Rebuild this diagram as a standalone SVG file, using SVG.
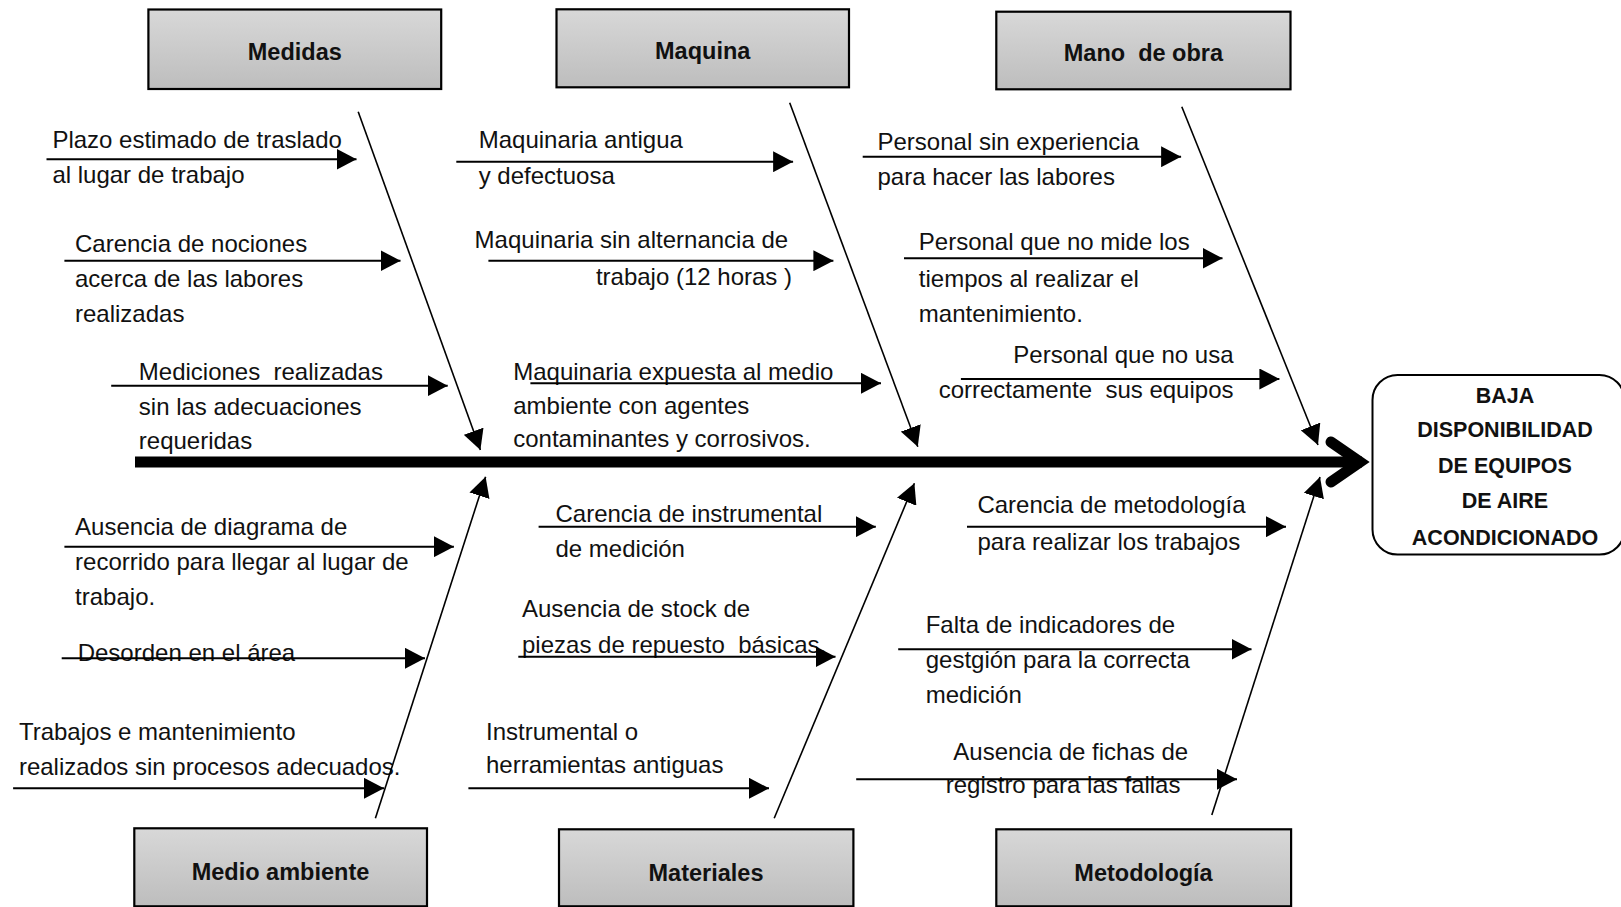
<svg xmlns="http://www.w3.org/2000/svg" width="1621" height="907" viewBox="0 0 1621 907">
  <defs>
    <linearGradient id="catFill" x1="0" y1="0" x2="0" y2="1">
      <stop offset="0" stop-color="#d8d8d8"/>
      <stop offset="1" stop-color="#bdbdbd"/>
    </linearGradient>
    <marker id="head" markerUnits="userSpaceOnUse" viewBox="0 0 20 21" markerWidth="20" markerHeight="21" refX="20" refY="10.5" orient="auto">
      <path d="M0,0 L20,10.5 L0,21 z" fill="#000"/>
    </marker>
    <style>
      .cat rect { fill: url(#catFill); stroke: #000; stroke-width: 2.2; }
      .cat text { font-family: "Liberation Sans", Arial, sans-serif; font-weight: bold; font-size: 23.5px; text-anchor: middle; fill: #111; white-space: pre; }
      .cause text { font-family: "Liberation Sans", Arial, sans-serif; font-size: 24px; fill: #111; white-space: pre; }
      .arrow { stroke: #000; stroke-width: 2; fill: none; marker-end: url(#head); }
      .bone { stroke: #000; stroke-width: 1.6; fill: none; marker-end: url(#head); }
      .effect rect { fill: #fff; stroke: #000; stroke-width: 2; }
      .effect text { font-family: "Liberation Sans", Arial, sans-serif; font-weight: bold; font-size: 21.5px; text-anchor: middle; fill: #111; }
    </style>
  </defs>
  <rect x="0" y="0" width="1621" height="907" fill="#fff"/>

  <!-- category boxes -->
  <g id="cat-medidas" class="cat">
    <rect x="148.4" y="9.5" width="292.8" height="79.5"/>
    <text x="294.8" y="60">Medidas</text>
  </g>
  <g id="cat-maquina" class="cat">
    <rect x="556.5" y="9.3" width="292.5" height="78"/>
    <text x="702.7" y="59">Maquina</text>
  </g>
  <g id="cat-mano-obra" class="cat">
    <rect x="996.3" y="11.7" width="294.2" height="77.6"/>
    <text x="1143.4" y="61">Mano  de obra</text>
  </g>
  <g id="cat-medio-ambiente" class="cat">
    <rect x="134.3" y="828.3" width="292.7" height="78"/>
    <text x="280.5" y="880">Medio ambiente</text>
  </g>
  <g id="cat-materiales" class="cat">
    <rect x="559" y="829.3" width="294.4" height="77"/>
    <text x="706" y="881">Materiales</text>
  </g>
  <g id="cat-metodologia" class="cat">
    <rect x="996.3" y="829.3" width="294.8" height="77"/>
    <text x="1143.5" y="881">Metodología</text>
  </g>

  <!-- effect -->
  <g id="effect" class="effect">
    <rect x="1372.5" y="375" width="252" height="179.5" rx="25" ry="25"/>
    <text x="1505" y="403.3">BAJA</text>
    <text x="1505" y="437.3">DISPONIBILIDAD</text>
    <text x="1505" y="472.5">DE EQUIPOS</text>
    <text x="1505" y="508.3">DE AIRE</text>
    <text x="1505" y="545">ACONDICIONADO</text>
  </g>

  <!-- causes: Medidas -->
  <g id="cause-plazo" class="cause">
    <text x="52.4" y="148">Plazo estimado de traslado</text>
    <text x="52.4" y="183.3">al lugar de trabajo</text>
  </g>
  <g id="cause-nociones" class="cause">
    <text x="75" y="252.3">Carencia de nociones</text>
    <text x="75" y="287.3">acerca de las labores</text>
    <text x="75" y="322.3">realizadas</text>
  </g>
  <g id="cause-mediciones" class="cause">
    <text x="138.8" y="380">Mediciones  realizadas</text>
    <text x="138.8" y="415">sin las adecuaciones</text>
    <text x="138.8" y="449">requeridas</text>
  </g>

  <!-- causes: Maquina -->
  <g id="cause-maq-antigua" class="cause">
    <text x="478.7" y="148">Maquinaria antigua</text>
    <text x="478.7" y="184">y defectuosa</text>
  </g>
  <g id="cause-maq-alternancia" class="cause">
    <text x="474.6" y="248.3">Maquinaria sin alternancia de</text>
    <text x="792" y="285" text-anchor="end">trabajo (12 horas )</text>
  </g>
  <g id="cause-maq-expuesta" class="cause">
    <text x="513.2" y="380">Maquinaria expuesta al medio</text>
    <text x="513.2" y="413.5">ambiente con agentes</text>
    <text x="513.2" y="447">contaminantes y corrosivos.</text>
  </g>

  <!-- causes: Mano de obra -->
  <g id="cause-experiencia" class="cause">
    <text x="877.5" y="150">Personal sin experiencia</text>
    <text x="877.5" y="185">para hacer las labores</text>
  </g>
  <g id="cause-tiempos" class="cause">
    <text x="918.8" y="250">Personal que no mide los</text>
    <text x="918.8" y="286.7">tiempos al realizar el</text>
    <text x="918.8" y="321.7">mantenimiento.</text>
  </g>
  <g id="cause-equipos" class="cause">
    <text x="1233.5" y="363.3" text-anchor="end">Personal que no usa</text>
    <text x="1233.5" y="398.3" text-anchor="end">correctamente  sus equipos</text>
  </g>

  <!-- causes: Medio ambiente -->
  <g id="cause-recorrido" class="cause">
    <text x="75.1" y="535">Ausencia de diagrama de</text>
    <text x="75.1" y="570">recorrido para llegar al lugar de</text>
    <text x="75.1" y="605">trabajo.</text>
  </g>
  <g id="cause-desorden" class="cause">
    <text x="77.7" y="661">Desorden en el área</text>
  </g>
  <g id="cause-procesos" class="cause">
    <text x="18.9" y="740">Trabajos e mantenimiento</text>
    <text x="18.9" y="775">realizados sin procesos adecuados.</text>
  </g>

  <!-- causes: Materiales -->
  <g id="cause-instrumental" class="cause">
    <text x="555.5" y="521.7">Carencia de instrumental</text>
    <text x="555.5" y="556.7">de medición</text>
  </g>
  <g id="cause-stock" class="cause">
    <text x="522" y="616.7">Ausencia de stock de</text>
    <text x="522" y="653">piezas de repuesto  básicas.</text>
  </g>
  <g id="cause-herramientas" class="cause">
    <text x="486" y="740">Instrumental o</text>
    <text x="486" y="773.3">herramientas antiguas</text>
  </g>

  <!-- causes: Metodología -->
  <g id="cause-metodologia" class="cause">
    <text x="977.4" y="513.3">Carencia de metodología</text>
    <text x="977.4" y="550">para realizar los trabajos</text>
  </g>
  <g id="cause-indicadores" class="cause">
    <text x="925.7" y="633.3">Falta de indicadores de</text>
    <text x="925.7" y="668">gestgión para la correcta</text>
    <text x="925.7" y="703.3">medición</text>
  </g>
  <g id="cause-fichas" class="cause">
    <text x="953.3" y="760">Ausencia de fichas de</text>
    <text x="945.7" y="793.3">registro para las fallas</text>
  </g>

  <!-- connectors -->
  <g id="connectors">
    <!-- spine -->
    <line x1="135" y1="462" x2="1362" y2="462" stroke="#000" stroke-width="11"/>
    <polyline points="1331,442 1360,462 1331,482" fill="none" stroke="#000" stroke-width="11" stroke-linecap="round" stroke-linejoin="miter"/>

    <!-- category bones -->
    <line class="bone" x1="358.2" y1="111.7" x2="480.4" y2="450"/>
    <line class="bone" x1="789.7" y1="102.7" x2="917.8" y2="446.7"/>
    <line class="bone" x1="1181.8" y1="106.7" x2="1318" y2="445"/>
    <line class="bone" x1="375.4" y1="818.3" x2="485.6" y2="476.7"/>
    <line class="bone" x1="774.2" y1="818.3" x2="914.4" y2="483.3"/>
    <line class="bone" x1="1211.8" y1="815" x2="1320" y2="477"/>

    <!-- cause arrows -->
    <line class="arrow" x1="46.5" y1="159.3" x2="356.5" y2="159.3"/>
    <line class="arrow" x1="64.4" y1="260.7" x2="400.5" y2="260.7"/>
    <line class="arrow" x1="111.2" y1="385.7" x2="447.7" y2="385.7"/>
    <line class="arrow" x1="456.3" y1="161.7" x2="793.1" y2="161.7"/>
    <line class="arrow" x1="488.4" y1="260.7" x2="833.4" y2="260.7"/>
    <line class="arrow" x1="530.4" y1="383.3" x2="881" y2="383.3"/>
    <line class="arrow" x1="862.7" y1="156.7" x2="1181.1" y2="156.7"/>
    <line class="arrow" x1="904" y1="258.3" x2="1222.5" y2="258.3"/>
    <line class="arrow" x1="960.9" y1="379" x2="1279.4" y2="379"/>
    <line class="arrow" x1="64.4" y1="546.7" x2="453.9" y2="546.7"/>
    <line class="arrow" x1="61.7" y1="658.3" x2="425" y2="658.3"/>
    <line class="arrow" x1="13.1" y1="788.3" x2="384" y2="788.3"/>
    <line class="arrow" x1="538.6" y1="526.7" x2="875.8" y2="526.7"/>
    <line class="arrow" x1="518.3" y1="656.7" x2="835.5" y2="656.7"/>
    <line class="arrow" x1="468.4" y1="788.3" x2="769" y2="788.3"/>
    <line class="arrow" x1="967" y1="526.7" x2="1286" y2="526.7"/>
    <line class="arrow" x1="898.2" y1="649.3" x2="1251.5" y2="649.3"/>
    <line class="arrow" x1="856.2" y1="779.3" x2="1237" y2="779.3"/>
  </g>
</svg>
